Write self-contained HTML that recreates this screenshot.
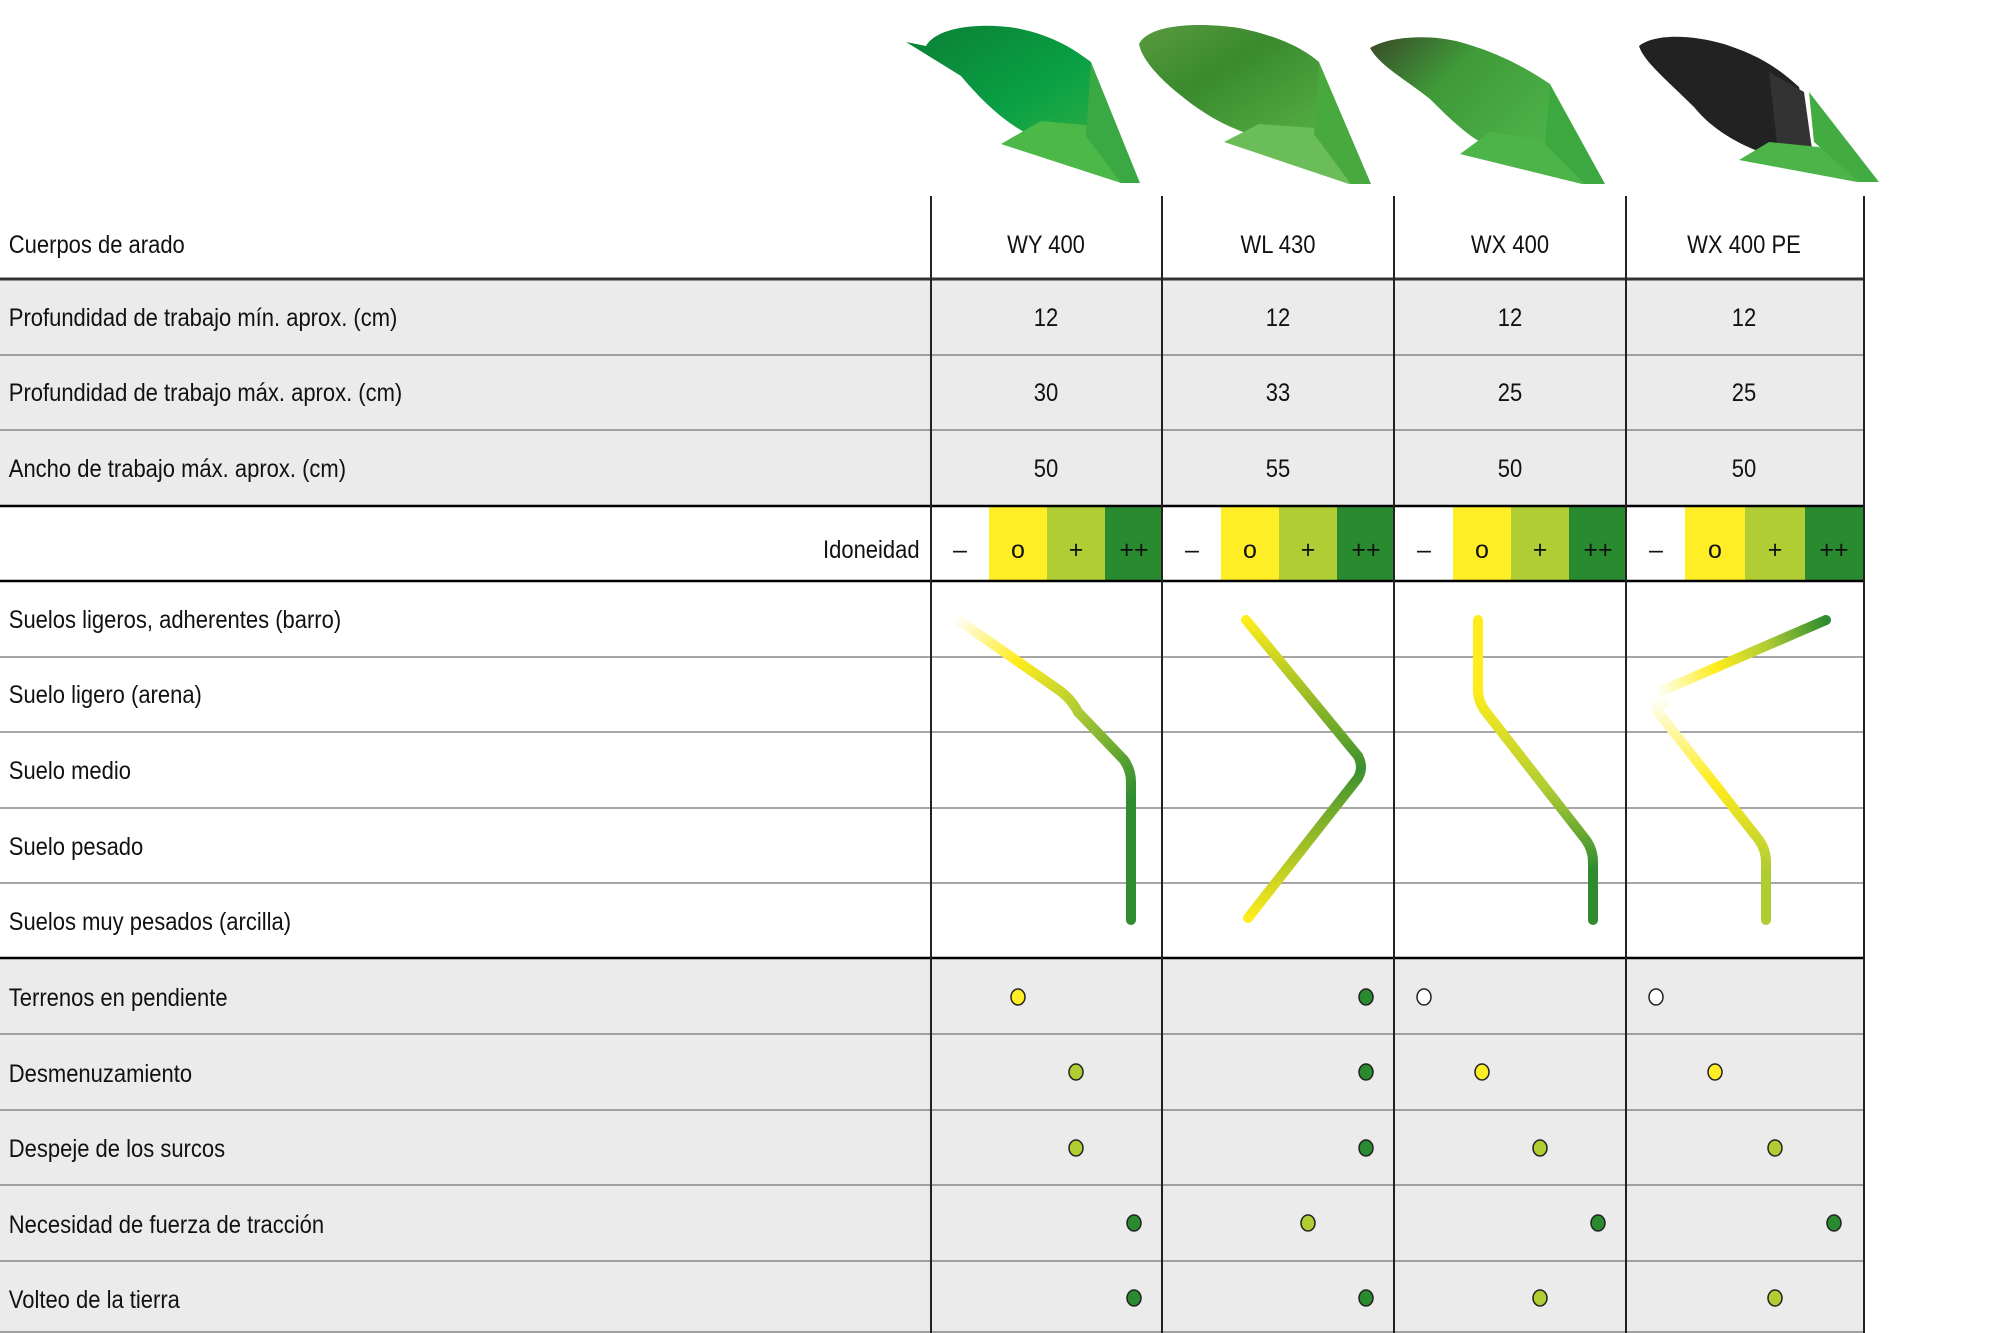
<!DOCTYPE html>
<html><head><meta charset="utf-8"><style>
html,body{margin:0;padding:0;background:#fff;}
svg{display:block;}
text{font-family:"Liberation Sans",sans-serif;font-size:25px;fill:#111;}
</style></head><body>
<svg width="2000" height="1333" viewBox="0 0 2000 1333" xmlns="http://www.w3.org/2000/svg">
<defs>
<linearGradient id="p1" x1="0" y1="0" x2="1" y2="1"><stop offset="0" stop-color="#0a7f35"/><stop offset="0.6" stop-color="#0aa044"/><stop offset="1" stop-color="#2fae45"/></linearGradient>
<linearGradient id="p2" x1="0" y1="0" x2="1" y2="1"><stop offset="0" stop-color="#5a9a40"/><stop offset="0.4" stop-color="#3a8a2e"/><stop offset="1" stop-color="#58b045"/></linearGradient>
<linearGradient id="p3" x1="0" y1="0" x2="1" y2="0.6"><stop offset="0" stop-color="#3a4a2a"/><stop offset="0.45" stop-color="#3f9a38"/><stop offset="1" stop-color="#4bb048"/></linearGradient>
<linearGradient id="g1" gradientUnits="userSpaceOnUse" x1="958" y1="617" x2="1135" y2="800"><stop offset="0" stop-color="#fff"/><stop offset="0.3" stop-color="#ffec1c"/><stop offset="0.6" stop-color="#b0cc34"/><stop offset="1" stop-color="#2d8c30"/></linearGradient>
<linearGradient id="g2" gradientUnits="userSpaceOnUse" x1="0" y1="620" x2="0" y2="918"><stop offset="0" stop-color="#ffec1c"/><stop offset="0.5" stop-color="#3a9030"/><stop offset="1" stop-color="#ffec1c"/></linearGradient>
<linearGradient id="g3" gradientUnits="userSpaceOnUse" x1="0" y1="690" x2="0" y2="870"><stop offset="0" stop-color="#ffec1c"/><stop offset="0.55" stop-color="#b0cc34"/><stop offset="1" stop-color="#2d8c30"/></linearGradient>
<linearGradient id="g4" gradientUnits="userSpaceOnUse" x1="1830" y1="620" x2="1662" y2="697"><stop offset="0" stop-color="#2d8c30"/><stop offset="0.35" stop-color="#b0cc34"/><stop offset="0.65" stop-color="#ffec1c"/><stop offset="1" stop-color="#fff"/></linearGradient>
<linearGradient id="g5" gradientUnits="userSpaceOnUse" x1="0" y1="697" x2="0" y2="870"><stop offset="0" stop-color="#fff"/><stop offset="0.5" stop-color="#ffec1c"/><stop offset="1" stop-color="#b0cc34"/></linearGradient>
</defs>

<!-- gray rows -->
<rect x="0" y="279" width="1864" height="227" fill="#ebebeb"/>
<rect x="0" y="958" width="1864" height="375" fill="#ebebeb"/>

<g transform="translate(-4,0)">
<!-- plows -->
<g transform="translate(910,26)">
 <path d="M0,16 L20,20 C30,2 70,-4 110,2 C150,10 170,25 185,36 L195,112 L150,120 C110,108 80,80 55,50 Z" fill="url(#p1)"/>
 <path d="M95,118 L135,95 L190,100 L234,157 L215,157 Z" fill="#4cb848"/>
 <path d="M185,36 L234,157 L215,157 L180,110 Z" fill="#3aa943"/>
</g>
<g transform="translate(1143,24)">
 <path d="M0,20 C10,0 60,-2 100,4 C140,12 165,25 180,38 L190,112 L140,118 C100,110 70,95 40,70 C15,50 2,32 0,20 Z" fill="url(#p2)"/>
 <path d="M85,118 L120,100 L190,105 L232,160 L210,160 Z" fill="#6abd58"/>
 <path d="M180,38 L232,160 L212,160 L175,110 Z" fill="#48a93f"/>
</g>
<g transform="translate(1374,34)">
 <path d="M0,14 C20,2 60,0 90,8 C125,18 150,30 180,50 L190,118 L145,122 C110,115 85,90 60,65 C35,45 10,32 0,14 Z" fill="url(#p3)"/>
 <path d="M90,120 L120,98 L190,108 L235,150 L212,150 Z" fill="#4db449"/>
 <path d="M180,50 L235,150 L215,150 L175,110 Z" fill="#3ea840"/>
</g>
<g transform="translate(1643,32)">
 <path d="M0,14 C15,2 50,2 85,12 C115,22 135,32 160,55 L175,125 L150,128 C110,120 75,100 55,75 C30,50 5,30 0,14 Z" fill="#222"/>
 <path d="M130,40 L165,60 L175,132 L140,128 Z" fill="#333"/>
 <path d="M100,128 L130,110 L180,115 L240,150 L218,150 Z" fill="#4db449"/>
 <path d="M170,60 L240,150 L220,150 L175,110 Z" fill="#42ab42"/>
</g>

<!-- idoneidad colored cells -->
<g>
 <rect x="993" y="506" width="58" height="75" fill="#ffed26"/><rect x="1051" y="506" width="58" height="75" fill="#b1cd34"/><rect x="1109" y="506" width="57" height="75" fill="#2a8a30"/>
 <rect x="1225" y="506" width="58" height="75" fill="#ffed26"/><rect x="1283" y="506" width="58" height="75" fill="#b1cd34"/><rect x="1341" y="506" width="57" height="75" fill="#2a8a30"/>
 <rect x="1457" y="506" width="58" height="75" fill="#ffed26"/><rect x="1515" y="506" width="58" height="75" fill="#b1cd34"/><rect x="1573" y="506" width="57" height="75" fill="#2a8a30"/>
 <rect x="1689" y="506" width="60" height="75" fill="#ffed26"/><rect x="1749" y="506" width="60" height="75" fill="#b1cd34"/><rect x="1809" y="506" width="59" height="75" fill="#2a8a30"/>
</g>
</g>

<!-- horizontal lines -->
<g stroke="#888" stroke-width="1.5">
 <line x1="0" y1="355" x2="1864" y2="355"/><line x1="0" y1="430" x2="1864" y2="430"/>
 <line x1="0" y1="657" x2="1864" y2="657"/><line x1="0" y1="732" x2="1864" y2="732"/>
 <line x1="0" y1="808" x2="1864" y2="808"/><line x1="0" y1="883" x2="1864" y2="883"/>
 <line x1="0" y1="1034" x2="1864" y2="1034"/><line x1="0" y1="1110" x2="1864" y2="1110"/>
 <line x1="0" y1="1185" x2="1864" y2="1185"/><line x1="0" y1="1261" x2="1864" y2="1261"/>
 <line x1="0" y1="1332" x2="1864" y2="1332"/>
</g>
<g stroke="#333" stroke-width="3">
 <line x1="0" y1="279" x2="1864" y2="279"/>
</g>
<g stroke="#000" stroke-width="2.5">
 <line x1="0" y1="506" x2="1864" y2="506"/><line x1="0" y1="581" x2="1864" y2="581"/>
 <line x1="0" y1="958" x2="1864" y2="958"/>
</g>

<g transform="translate(-4,0)">
<!-- vertical lines -->
<g stroke="#222" stroke-width="2">
 <line x1="935" y1="196" x2="935" y2="1333"/><line x1="1166" y1="196" x2="1166" y2="1333"/>
 <line x1="1398" y1="196" x2="1398" y2="1333"/><line x1="1630" y1="196" x2="1630" y2="1333"/>
 <line x1="1868" y1="196" x2="1868" y2="1333"/>
</g>
<!-- column values -->
<g text-anchor="middle">
 <g transform="translate(1050,0) scale(0.88,1)"><text x="0" y="253">WY 400</text><text x="0" y="326">12</text><text x="0" y="401">30</text><text x="0" y="477">50</text></g>
 <g transform="translate(1282,0) scale(0.88,1)"><text x="0" y="253">WL 430</text><text x="0" y="326">12</text><text x="0" y="401">33</text><text x="0" y="477">55</text></g>
 <g transform="translate(1514,0) scale(0.88,1)"><text x="0" y="253">WX 400</text><text x="0" y="326">12</text><text x="0" y="401">25</text><text x="0" y="477">50</text></g>
 <g transform="translate(1748,0) scale(0.88,1)"><text x="0" y="253">WX 400 PE</text><text x="0" y="326">12</text><text x="0" y="401">25</text><text x="0" y="477">50</text></g>
</g>
<g text-anchor="middle" style="font-size:22px">
 <text x="964" y="558">–</text><text x="1022" y="558">o</text><text x="1080" y="558">+</text><text x="1138" y="558">++</text>
 <text x="1196" y="558">–</text><text x="1254" y="558">o</text><text x="1312" y="558">+</text><text x="1370" y="558">++</text>
 <text x="1428" y="558">–</text><text x="1486" y="558">o</text><text x="1544" y="558">+</text><text x="1602" y="558">++</text>
 <text x="1660" y="558">–</text><text x="1719" y="558">o</text><text x="1779" y="558">+</text><text x="1838" y="558">++</text>
</g>

<!-- curves -->
<g fill="none" stroke-width="10" stroke-linecap="round" stroke-linejoin="round">
 <path d="M958,617 L1060,688 Q1075,698 1082,712 L1128,760 Q1135,770 1135,782 L1135,920" stroke="url(#g1)"/>
 <path d="M1250,620 L1362,756 Q1368,767 1362,778 L1252,918" stroke="url(#g2)"/>
 <path d="M1482,620 L1482,690 Q1482,702 1490,712 L1590,840 Q1597,850 1597,862 L1597,920" stroke="url(#g3)"/>
 <path d="M1668,703 Q1652,698 1668,690 L1830,620" stroke="url(#g4)"/>
 <path d="M1668,703 Q1656,700 1662,712 L1763,840 Q1770,850 1770,862 L1770,920" stroke="url(#g5)"/>
</g>

<!-- dots -->
<g stroke="#222" stroke-width="1.5">
 <ellipse cx="1022" cy="997" rx="7" ry="8" fill="#ffed26"/><ellipse cx="1370" cy="997" rx="7" ry="8" fill="#2a8a30"/><ellipse cx="1428" cy="997" rx="7" ry="8" fill="#fff"/><ellipse cx="1660" cy="997" rx="7" ry="8" fill="#fff"/>
 <ellipse cx="1080" cy="1072" rx="7" ry="8" fill="#b1cd34"/><ellipse cx="1370" cy="1072" rx="7" ry="8" fill="#2a8a30"/><ellipse cx="1486" cy="1072" rx="7" ry="8" fill="#ffed26"/><ellipse cx="1719" cy="1072" rx="7" ry="8" fill="#ffed26"/>
 <ellipse cx="1080" cy="1148" rx="7" ry="8" fill="#b1cd34"/><ellipse cx="1370" cy="1148" rx="7" ry="8" fill="#2a8a30"/><ellipse cx="1544" cy="1148" rx="7" ry="8" fill="#b1cd34"/><ellipse cx="1779" cy="1148" rx="7" ry="8" fill="#b1cd34"/>
 <ellipse cx="1138" cy="1223" rx="7" ry="8" fill="#2a8a30"/><ellipse cx="1312" cy="1223" rx="7" ry="8" fill="#b1cd34"/><ellipse cx="1602" cy="1223" rx="7" ry="8" fill="#2a8a30"/><ellipse cx="1838" cy="1223" rx="7" ry="8" fill="#2a8a30"/>
 <ellipse cx="1138" cy="1298" rx="7" ry="8" fill="#2a8a30"/><ellipse cx="1370" cy="1298" rx="7" ry="8" fill="#2a8a30"/><ellipse cx="1544" cy="1298" rx="7" ry="8" fill="#b1cd34"/><ellipse cx="1779" cy="1298" rx="7" ry="8" fill="#b1cd34"/>
</g>
</g>

<!-- left labels -->
<g transform="scale(0.88,1)">
 <text x="10" y="253">Cuerpos de arado</text>
 <text x="10" y="326">Profundidad de trabajo mín. aprox. (cm)</text>
 <text x="10" y="401">Profundidad de trabajo máx. aprox. (cm)</text>
 <text x="10" y="477">Ancho de trabajo máx. aprox. (cm)</text>
 <text x="1045" y="558" text-anchor="end">Idoneidad</text>
 <text x="10" y="628">Suelos ligeros, adherentes (barro)</text>
 <text x="10" y="703">Suelo ligero (arena)</text>
 <text x="10" y="779">Suelo medio</text>
 <text x="10" y="855">Suelo pesado</text>
 <text x="10" y="930">Suelos muy pesados (arcilla)</text>
 <text x="10" y="1006">Terrenos en pendiente</text>
 <text x="10" y="1082">Desmenuzamiento</text>
 <text x="10" y="1157">Despeje de los surcos</text>
 <text x="10" y="1233">Necesidad de fuerza de tracción</text>
 <text x="10" y="1308">Volteo de la tierra</text>
</g>
</svg>
</body></html>
